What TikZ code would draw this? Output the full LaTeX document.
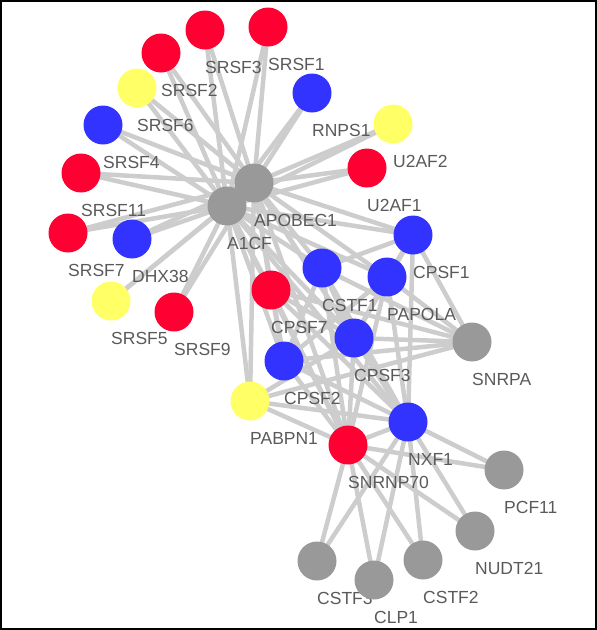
\documentclass[tikz,border=0pt]{standalone}
\usepackage{fontspec}
\setmainfont{Liberation Sans}
\definecolor{nred}{RGB}{255,0,51}
\definecolor{nblue}{RGB}{51,51,255}
\definecolor{nyellow}{RGB}{255,255,102}
\definecolor{ngray}{RGB}{153,153,153}
\definecolor{edgec}{RGB}{205,205,205}
\definecolor{labc}{RGB}{90,90,90}
\pgfdeclarelayer{edgelayer}
\pgfdeclarelayer{labellayer}
\pgfsetlayers{edgelayer,labellayer,main}
\tikzset{
  gene/.style={circle, draw=none, minimum size=39pt, inner sep=0pt},
  genelabel/.style={anchor=west, inner sep=0pt, text=labc, font=\fontsize{17.5}{20}\selectfont},
  link/.style={draw=edgec, line width=4.5pt},
  frame/.style={draw=black, line width=2pt}
}
\begin{document}
\begin{tikzpicture}[x=1pt,y=-1pt]
\useasboundingbox (0,0) rectangle (597,630);
\draw[frame] (1,1) rectangle (595.5,628.5);
\foreach \n/\x/\y/\c in {
  SRSF3/205/30/nred, SRSF1/268/27/nred, SRSF2/161/53/nred, SRSF6/137/88/nyellow,
  RNPS1/312/93/nblue, SRSF4/103/125/nblue, U2AF2/393/124/nyellow, U2AF1/367/168/nred,
  SRSF11/81/173/nred, A1CF/227/206/ngray, APOBEC1/254/183/ngray, CPSF1/413/235/nblue,
  SRSF7/68/233/nred, DHX38/132/239/nblue, SRSF5/111/301/nyellow, SRSF9/174/312/nred,
  CSTF1/322/268/nblue, PAPOLA/387/277/nblue, CPSF7/271/290/nred, CPSF3/354/338/nblue,
  SNRPA/472/342/ngray, CPSF2/284/361/nblue, PABPN1/250/401/nyellow, NXF1/408/422/nblue,
  SNRNP70/348/445/nred, PCF11/504/470/ngray, NUDT21/475/531/ngray, CSTF3/317/561/ngray,
  CSTF2/423/560/ngray, CLP1/374/580/ngray}
{
  \node[gene, fill=\c] (\n) at (\x,\y) {};
  \begin{pgfonlayer}{labellayer}
    \node[genelabel] (\n-lab) at (\x,\y+37) {\n};
  \end{pgfonlayer}
}
\begin{pgfonlayer}{edgelayer}
  \draw[link] (APOBEC1.center) -- (A1CF.center);
  \foreach \g in {SRSF3, SRSF1, SRSF2, SRSF6, SRSF4, SRSF11, SRSF7, DHX38, SRSF5, SRSF9,
                  RNPS1, U2AF2, U2AF1, CPSF1, CSTF1, CPSF7, PAPOLA, CPSF3, CPSF2,
                  PABPN1, SNRNP70, NXF1}
  {
    \draw[link] (APOBEC1.center) -- (\g.center);
    \draw[link] (A1CF.center) -- (\g.center);
  }
  \foreach \a/\b in {
    CPSF1/PAPOLA, CPSF1/CSTF1, CPSF1/SNRPA, CPSF1/NXF1, CPSF1/CPSF3,
    PAPOLA/SNRPA, PAPOLA/CPSF3, PAPOLA/SNRNP70, PAPOLA/CPSF2, PAPOLA/NXF1,
    CSTF1/CPSF3, CSTF1/SNRPA, CSTF1/NXF1, CSTF1/SNRNP70, CSTF1/CPSF2,
    CPSF7/CPSF2, CPSF7/SNRNP70, CPSF7/SNRPA, CPSF7/CPSF3, CPSF7/NXF1,
    CPSF3/SNRPA, CPSF3/SNRNP70, CPSF3/NXF1, CPSF3/PABPN1,
    CPSF2/SNRPA, CPSF2/SNRNP70, CPSF2/NXF1,
    PABPN1/SNRPA, PABPN1/SNRNP70, PABPN1/NXF1,
    SNRNP70/NXF1, SNRNP70/PCF11, SNRNP70/NUDT21, SNRNP70/CSTF3, SNRNP70/CLP1, SNRNP70/CSTF2,
    NXF1/PCF11, NXF1/NUDT21, NXF1/CSTF2, NXF1/CLP1, NXF1/CSTF3}
  {
    \draw[link] (\a.center) -- (\b.center);
  }
\end{pgfonlayer}
\end{tikzpicture}
\end{document}
